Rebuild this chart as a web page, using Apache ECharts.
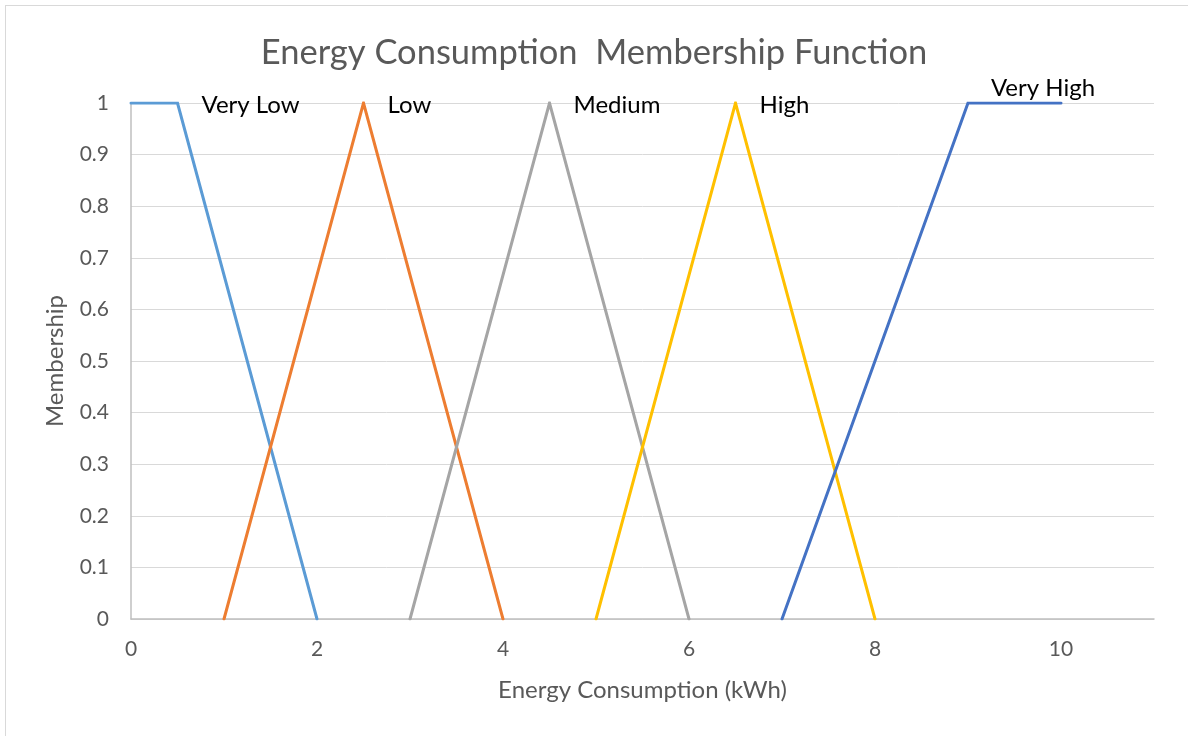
<!DOCTYPE html>
<html>
<head>
<meta charset="utf-8">
<script src="https://cdn.jsdelivr.net/npm/echarts@6/dist/echarts.min.js"></script>
<style>
  html, body { margin: 0; padding: 0; background: #fff; }
  #frame { position: absolute; left: 5px; top: 5px; width: 1200px; height: 760px;
           border-left: 1px solid #d9d9d9; border-top: 1px solid #d9d9d9; }
  #chart { position: absolute; left: 0; top: 0; width: 1188px; height: 736px; }
</style>
</head>
<body>
<div id="frame"></div>
<div id="chart"></div>
<script>
// Fuzzy membership functions for energy consumption (kWh)
const seriesNames = ['Very Low', 'Low', 'Medium', 'High', 'Very High'];
const veryLow  = [[0, 1], [0.5, 1], [2, 0]];
const low      = [[1, 0], [2.5, 1], [4, 0]];
const medium   = [[3, 0], [4.5, 1], [6, 0]];
const high     = [[5, 0], [6.5, 1], [8, 0]];
const veryHigh = [[7, 0], [9, 1], [10, 1]];
// index of the point carrying each set's name label
const labelPointIndex = [1, 1, 1, 1, 2];
const colors = ['#5B9BD5', '#ED7D31', '#A5A5A5', '#FFC000', '#4472C4'];

const font = 'Lato, "Open Sans", sans-serif';
const allData = [veryLow, low, medium, high, veryHigh];

const series = allData.map((pts, i) => ({
  name: seriesNames[i],
  type: 'line',
  data: pts.map((p, j) => {
    const item = { value: p };
    if (j === labelPointIndex[i]) {
      const isLast = i === 4;
      item.label = {
        show: true,
        formatter: seriesNames[i],
        position: isLast ? 'top' : 'right',
        offset: isLast ? [-18, 2] : [19, 2],
        color: '#000',
        fontSize: 24,
        fontFamily: font
      };
    }
    return item;
  }),
  showSymbol: true,
  symbol: 'circle',
  symbolSize: 0,
  lineStyle: { width: 3, color: colors[i], cap: 'round', join: 'miter' },
  itemStyle: { color: colors[i] },
  animation: false
}));

const chart = echarts.init(document.getElementById('chart'), null, { renderer: 'canvas' });
chart.setOption({
  backgroundColor: 'transparent',
  title: {
    text: 'Energy Consumption  Membership Function',
    left: 'center',
    top: 30,
    textStyle: { color: '#595959', fontSize: 34.5, fontWeight: 'normal', fontFamily: font }
  },
  grid: { left: 131, right: 34, top: 103, bottom: 117, containLabel: false },
  xAxis: {
    type: 'value',
    min: 0, max: 11, interval: 2,
    name: 'Energy Consumption (kWh)',
    nameLocation: 'middle',
    nameGap: 59,
    nameTextStyle: { color: '#595959', fontSize: 24, fontFamily: font },
    axisLine: { show: true, lineStyle: { color: '#bfbfbf', width: 1.5 } },
    axisTick: { show: false },
    splitLine: { show: false },
    axisLabel: {
      color: '#595959', fontSize: 21, fontFamily: font, margin: 20,
      showMaxLabel: false,
      formatter: v => (v % 2 === 0 && v <= 10 ? String(v) : '')
    }
  },
  yAxis: {
    type: 'value',
    min: 0, max: 1, interval: 0.1,
    name: 'Membership',
    nameLocation: 'middle',
    nameGap: 64,
    nameTextStyle: { color: '#595959', fontSize: 24, fontFamily: font },
    axisLine: { show: true, lineStyle: { color: '#bfbfbf', width: 1.5 } },
    axisTick: { show: false },
    splitLine: { show: true, lineStyle: { color: '#d9d9d9', width: 1 } },
    axisLabel: {
      color: '#595959', fontSize: 21, fontFamily: font, margin: 22,
      formatter: v => String(Math.round(v * 10) / 10)
    }
  },
  series: series
});
</script>
</body>
</html>
